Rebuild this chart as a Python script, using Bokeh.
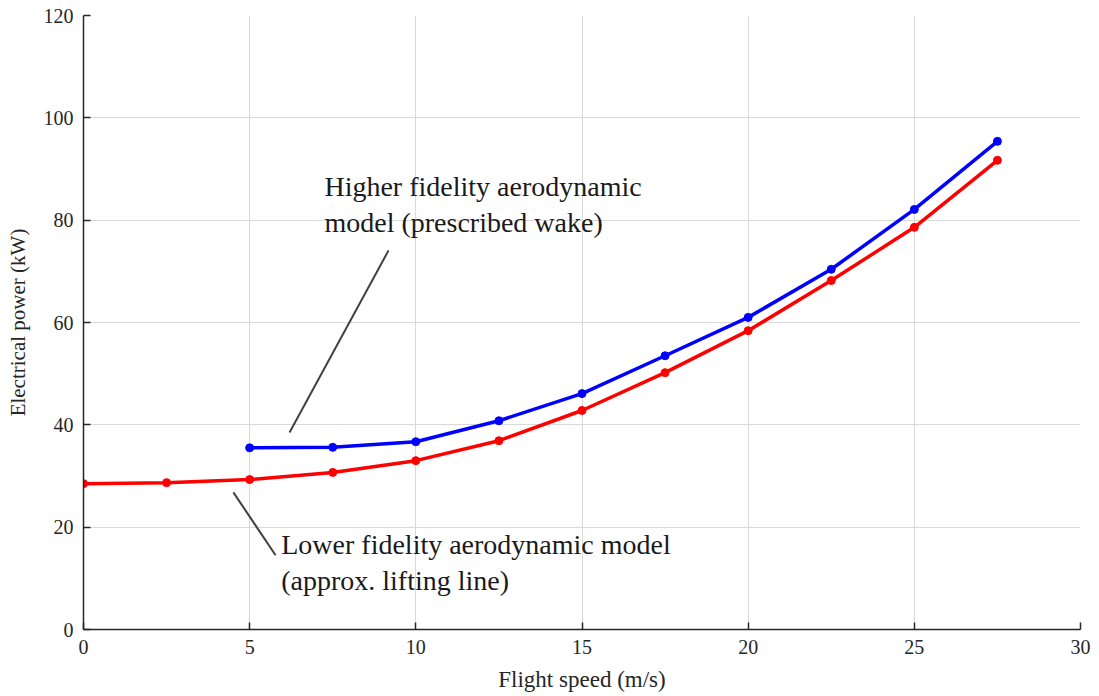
from bokeh.plotting import figure
from bokeh.models import Range1d, FixedTicker, Label
from bokeh.embed import file_html
from bokeh.resources import INLINE

# Data
speed_low = [0, 2.5, 5, 7.5, 10, 12.5, 15, 17.5, 20, 22.5, 25, 27.5]
power_low = [28.5, 28.7, 29.3, 30.7, 33.0, 36.9, 42.8, 50.2, 58.4, 68.2, 78.6, 91.7]
speed_high = [5, 7.5, 10, 12.5, 15, 17.5, 20, 22.5, 25, 27.5]
power_high = [35.5, 35.6, 36.7, 40.8, 46.1, 53.5, 61.0, 70.4, 82.1, 95.4]
x_ticks = [0, 5, 10, 15, 20, 25, 30]
y_ticks = [0, 20, 40, 60, 80, 100, 120]
label_high = "Higher fidelity aerodynamic\nmodel (prescribed wake)"
label_low = "Lower fidelity aerodynamic model\n(approx. lifting line)"

FONT = "Liberation Serif"
AX = "#262626"

p = figure(width=1093, height=696, output_backend="svg", toolbar_location=None,
           x_range=Range1d(0, 30), y_range=Range1d(0, 120),
           min_border_left=83, min_border_right=13, min_border_top=15, min_border_bottom=67)
p.outline_line_color = None

for ax in (p.xaxis[0], p.yaxis[0]):
    ax.major_tick_in = 7
    ax.major_tick_out = 0
    ax.minor_tick_line_color = None
    ax.axis_line_color = AX
    ax.axis_line_width = 1.5
    ax.major_tick_line_color = AX
    ax.major_tick_line_width = 1.5
    ax.major_label_text_font = FONT
    ax.major_label_text_font_size = "20px"
    ax.major_label_text_color = AX
    ax.axis_label_text_font = FONT
    ax.axis_label_text_font_style = "normal"
    ax.axis_label_text_color = AX

p.xaxis.axis_label_text_font_size = "23px"
p.yaxis.axis_label_text_font_size = "21px"
p.xaxis.ticker = FixedTicker(ticks=x_ticks)
p.yaxis.ticker = FixedTicker(ticks=y_ticks)
p.xaxis.axis_label = "Flight speed (m/s)"
p.yaxis.axis_label = "Electrical power (kW)"
p.xaxis.major_label_standoff = 10
p.yaxis.major_label_standoff = 10
p.xaxis.axis_label_standoff = 10
p.yaxis.axis_label_standoff = 11

p.grid.grid_line_color = "#d9d9d9"
p.grid.grid_line_width = 1

p.line(speed_high, power_high, line_color="#0000ff", line_width=3.5)
p.scatter(speed_high, power_high, size=8, fill_color="#0000ff", line_color="#0000ff")
p.line(speed_low, power_low, line_color="#ff0000", line_width=3.5)
p.scatter(speed_low, power_low, size=8, fill_color="#ff0000", line_color="#ff0000")

# annotation pointer lines
p.segment(x0=[9.18, 4.51], y0=[74.1, 26.8], x1=[6.2, 5.78], y1=[38.5, 14.5],
          line_color="#404040", line_width=2)

p.add_layout(Label(x=7.25, y=89.6, text=label_high, text_font=FONT,
                   text_font_size="28px", text_color="#1a1a1a", text_baseline="top",
                   text_line_height=1.15))
p.add_layout(Label(x=5.95, y=19.6, text=label_low, text_font=FONT,
                   text_font_size="28px", text_color="#1a1a1a", text_baseline="top",
                   text_line_height=1.15))

open("out.html", "w").write(file_html(p, INLINE))
